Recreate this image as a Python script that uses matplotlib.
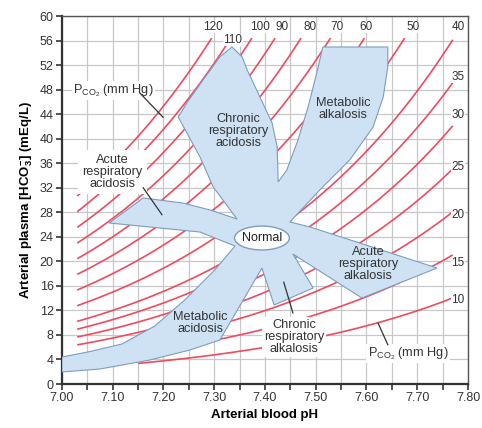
import numpy as np
import matplotlib.pyplot as plt
from matplotlib.patches import Polygon, Ellipse

plt.rcParams['font.family'] = ['Liberation Sans', 'DejaVu Sans']
plt.rcParams['mathtext.fontset'] = 'custom'
plt.rcParams['mathtext.rm'] = 'Liberation Sans'
plt.rcParams['mathtext.bf'] = 'Liberation Sans:bold'

# Pco2 isopleths (mm Hg) and the pH where each drawn line starts
pco2_values = [120, 110, 100, 90, 80, 70, 60, 50, 40, 35, 30, 25, 20, 15, 10]
line_ph_start = [7.03, 7.03, 7.03, 7.03, 7.03, 7.03, 7.03, 7.03, 7.03, 7.03,
                 7.03, 7.03, 7.15, 7.15, 7.15]
line_ph_stop = 7.77
line_hco3_top = 56.4

# isopleth labels
top_labels = ['120', '110', '100', '90', '80', '70', '60', '50', '40']
top_label_ph = [7.297, 7.337, 7.39, 7.433, 7.488, 7.541, 7.600, 7.691, 7.780]
top_label_hco3 = [58.2, 56.1, 58.2, 58.2, 58.2, 58.2, 58.2, 58.2, 58.2]
right_labels = ['35', '30', '25', '20', '15', '10']
right_label_ph = 7.78
right_label_hco3 = [50.1, 43.9, 35.4, 27.6, 19.7, 13.7]

# outline of the shaded acid-base regions (pH, HCO3-)
region_ph = [7.000, 7.075, 7.173, 7.252, 7.311, 7.394, 7.418, 7.495, 7.455, 7.591,
             7.739, 7.489, 7.449, 7.508, 7.567, 7.613, 7.633, 7.642, 7.642, 7.514,
             7.502, 7.485, 7.465, 7.443, 7.426, 7.424, 7.414, 7.390, 7.365, 7.355,
             7.335, 7.311, 7.278, 7.246, 7.229, 7.272, 7.298, 7.345, 7.292, 7.238,
             7.160, 7.093, 7.173, 7.272, 7.341, 7.301, 7.242, 7.183, 7.118, 7.051,
             7.000]
region_hco3 = [1.96, 2.45, 3.91, 5.54, 7.17, 18.91, 12.88, 15.65, 21.20, 14.02,
               18.91, 25.60, 26.41, 31.63, 36.52, 41.90, 46.80, 51.69, 54.95, 54.95,
               50.71, 45.17, 39.78, 34.89, 32.94, 38.64, 42.56, 46.80, 51.20, 53.32,
               54.95, 53.32, 49.57, 45.82, 43.53, 37.01, 32.12, 26.90, 28.37, 29.51,
               30.33, 26.25, 25.60, 24.78, 22.50, 18.59, 13.70, 9.46, 6.52, 5.22,
               4.40]

normal_ph, normal_hco3 = 7.394, 23.8

# region names and label positions
region_names = ['Chronic\nrespiratory\nacidosis', 'Metabolic\nalkalosis',
                'Acute\nrespiratory\nalkalosis', 'Metabolic\nacidosis']
region_name_ph = [7.347, 7.554, 7.603, 7.272]
region_name_hco3 = [41.3, 44.8, 19.6, 9.9]

# labels outside the shaded area, with pointer lines
call_texts = ['P$_{\\rm CO_2}$ (mm Hg)', 'Acute\nrespiratory\nacidosis',
              'Chronic\nrespiratory\nalkalosis', 'P$_{\\rm CO_2}$ (mm Hg)']
call_ph = [7.102, 7.099, 7.457, 7.682]
call_hco3 = [47.9, 34.6, 7.6, 5.0]
call_pad = [1.0, 3.0, 1.5, 1.0]
pointer_ph = [(7.154, 7.199), (7.160, 7.197), (7.437, 7.455), (7.623, 7.642)]
pointer_hco3 = [(47.4, 43.5), (32.0, 27.6), (16.6, 11.6), (9.9, 6.4)]

red = '#ef4b5f'
blue_fill = '#cfe2f3'
blue_edge = '#7d9dbf'

fig = plt.figure(figsize=(4.82, 4.28), dpi=100)
ax = fig.add_axes([0.1286, 0.1028, 0.8423, 0.8598])

# isopleths: HCO3- = 0.03 * Pco2 * 10^(pH - 6.1)
for p, start in zip(pco2_values, line_ph_start):
    stop = min(line_ph_stop, 6.1 + np.log10(line_hco3_top / (0.03 * p)))
    ph = np.linspace(start, stop, 100)
    ax.plot(ph, 0.03 * p * 10 ** (ph - 6.1), color=red, lw=1.2, zorder=2,
            solid_capstyle='butt')

ax.add_patch(Polygon(np.column_stack([region_ph, region_hco3]), closed=True,
                     facecolor=blue_fill, edgecolor=blue_edge, lw=0.8, zorder=3))
ax.add_patch(Ellipse((normal_ph, normal_hco3), 0.108, 3.9, facecolor='white',
                     edgecolor=blue_edge, lw=1.0, zorder=4))
ax.text(normal_ph, normal_hco3, 'Normal', ha='center', va='center', fontsize=9,
        color='#222222', zorder=5)

for name, x, y in zip(region_names, region_name_ph, region_name_hco3):
    ax.text(x, y, name, ha='center', va='center', fontsize=9.2, color='#333333',
            linespacing=1.0, zorder=5)

for t, x, y, pad, px, py in zip(call_texts, call_ph, call_hco3, call_pad,
                                pointer_ph, pointer_hco3):
    ax.plot(px, py, color='#333333', lw=0.9, zorder=6)
    ax.text(x, y, t, ha='center', va='center', fontsize=9.2, color='#333333',
            linespacing=1.0, zorder=5,
            bbox=dict(facecolor='white', edgecolor='none', pad=pad))

for t, x, y in zip(top_labels, top_label_ph, top_label_hco3):
    ax.text(x, y, t, ha='center', va='center', fontsize=8.5, color='#333333',
            zorder=5, bbox=dict(facecolor='white', edgecolor='none', pad=0.2))
for t, y in zip(right_labels, right_label_hco3):
    ax.text(right_label_ph, y, t, ha='center', va='center', fontsize=8.5,
            color='#333333', zorder=5,
            bbox=dict(facecolor='white', edgecolor='none', pad=0.2))

ax.set_xlim(7.0, 7.8)
ax.set_ylim(0, 60)
ax.set_xticks(np.arange(7.0, 7.81, 0.1))
ax.set_xticks(np.arange(7.0, 7.81, 0.05), minor=True)
ax.set_xticklabels([f'{v:.2f}' for v in np.arange(7.0, 7.81, 0.1)])
ax.set_yticks(np.arange(0, 61, 4))
ax.grid(True, which='both', color='#c8c8c8', lw=0.9, zorder=1)
ax.set_axisbelow(True)
ax.tick_params(axis='both', which='both', direction='out', length=4, width=1.2,
               colors='#333333', labelsize=9, pad=2)

for s in ['left', 'bottom']:
    ax.spines[s].set_linewidth(1.6)
    ax.spines[s].set_color('#333333')
for s in ['top', 'right']:
    ax.spines[s].set_linewidth(1.0)
    ax.spines[s].set_color('#555555')

ax.set_xlabel('Arterial blood pH', fontsize=9.5, fontweight='bold', labelpad=3)
ax.set_ylabel('Arterial plasma [HCO$_\\mathbf{3}^\\mathbf{-}$] (mEq/L)', fontsize=9.5,
              fontweight='bold', labelpad=3)

fig.savefig('out.png', dpi=100)
